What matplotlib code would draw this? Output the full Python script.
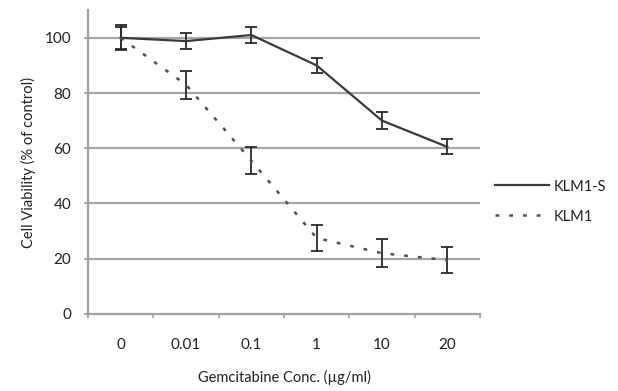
import numpy as np
import matplotlib.pyplot as plt
from matplotlib.lines import Line2D

plt.rcParams['font.family'] = ['Lato', 'DejaVu Sans']

conc_labels = ['0', '0.01', '0.1', '1', '10', '20']
klm1s = [100, 98.8, 101, 90, 70, 60.5]
klm1s_err = [4, 3, 3, 2.8, 3, 2.7]
klm1 = [100, 83, 55.5, 27.5, 22, 19.5]
klm1_err = [4.5, 5, 5, 4.8, 5, 4.8]

x = np.arange(len(conc_labels))

fig = plt.figure(figsize=(6.18, 3.91), dpi=100)
ax = fig.add_axes([0.1424, 0.197, 0.6343, 0.777])

for yv in [20, 40, 60, 80, 100]:
    ax.axhline(yv, color='#a6a6a6', lw=1.6, zorder=0)

solid_style = dict(color='#3a3a3a', lw=1.6)
dot_style = dict(color='#505050', lw=1.8, linestyle=(0, (1.5, 4)))

ax.errorbar(x, klm1s, yerr=klm1s_err, ecolor='#2a2a2a', elinewidth=1.3,
            capsize=4.3, capthick=1.3, zorder=3, **solid_style)
ax.errorbar(x, klm1, yerr=klm1_err, ecolor='#2a2a2a', elinewidth=1.3,
            capsize=4.3, capthick=1.3, zorder=3, **dot_style)

ax.set_xlim(-0.5, 5.5)
ax.set_ylim(0, 110)
ax.set_yticks([0, 20, 40, 60, 80, 100])
ax.set_xticks(x)
ax.set_xticklabels(conc_labels)
ax.set_xticks(np.arange(-0.5, 6, 1), minor=True)
ax.tick_params(axis='x', which='major', length=0, pad=17, labelsize=11,
               colors='#222222')
ax.tick_params(axis='x', which='minor', length=3, color='#a0a0a0', width=1.2)
ax.tick_params(axis='y', length=3, color='#a0a0a0', width=1.2, pad=9,
               labelsize=11, colors='#222222')

for side in ['top', 'right']:
    ax.spines[side].set_visible(False)
for side in ['left', 'bottom']:
    ax.spines[side].set_color('#a0a0a0')
    ax.spines[side].set_linewidth(1.6)

ax.set_ylabel('Cell Viability (% of control)', fontsize=10.5, color='#222222',
              labelpad=6)
ax.set_xlabel('Gemcitabine Conc. (µg/ml)', fontsize=10.5, color='#222222',
              labelpad=13)

handles = [Line2D([], [], **solid_style), Line2D([], [], **dot_style)]
leg = ax.legend(handles, ['KLM1-S', 'KLM1'], loc='center left',
                bbox_to_anchor=(1.005, 0.37), frameon=False, fontsize=10.5,
                handlelength=3.7, handletextpad=0.3, labelspacing=1.1)
for t in leg.get_texts():
    t.set_color('#222222')

fig.savefig('out.png', dpi=100)
